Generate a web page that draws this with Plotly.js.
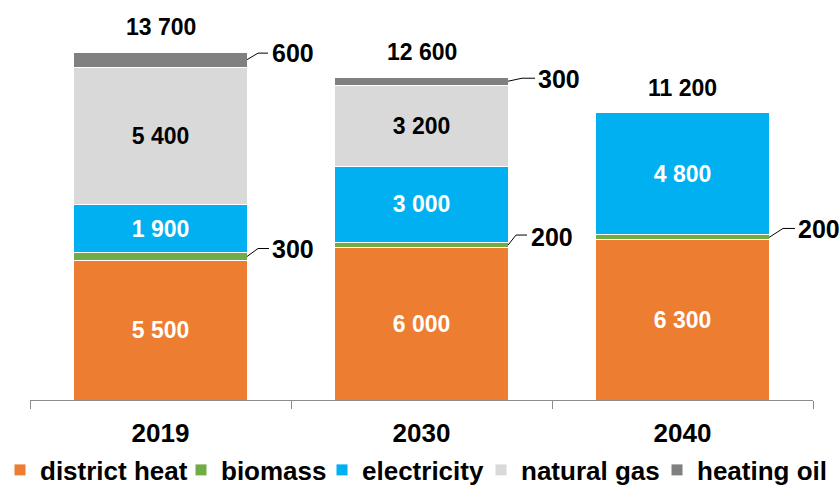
<!DOCTYPE html>
<html>
<head>
<meta charset="utf-8">
<script src="https://cdn.plot.ly/plotly-3.0.1.min.js"></script>
<style>
  html, body { margin: 0; padding: 0; background: #ffffff; }
  #chart { width: 840px; height: 485px; }
</style>
</head>
<body>
<div id="chart"></div>
<script>
// Heat supply by source, stacked per year
const categories  = ['2019', '2030', '2040'];
const districtHeat = [5500, 6000, 6300];
const biomass      = [300, 200, 200];
const electricity  = [1900, 3000, 4800];
const naturalGas   = [5400, 3200, 0];
const heatingOil   = [600, 300, 0];
const totals       = [13700, 12600, 11200];

const FONT = 'Liberation Sans, Arial, sans-serif';
const W = 840, H = 485;
const BAR_WIDTH = 0.663;           // fraction of a category slot
const fmt = v => String(v).replace(/\B(?=(\d{3})+(?!\d))/g, ' ');

// Each series gets its own one-entry legend so the key row can be spaced freely
const series = [
  { name: 'district heat', values: districtHeat, color: '#ED7D31', textColor: '#ffffff', keyX: 0 },
  { name: 'biomass',       values: biomass,      color: '#70AD47', textColor: null,      keyX: 181 },
  { name: 'electricity',   values: electricity,  color: '#00B0F0', textColor: '#ffffff', keyX: 322 },
  { name: 'natural gas',   values: naturalGas,   color: '#D9D9D9', textColor: '#000000', keyX: 481 },
  { name: 'heating oil',   values: heatingOil,   color: '#808080', textColor: null,      keyX: 657 }
];

const legendId = i => (i === 0 ? 'legend' : 'legend' + (i + 1));

const traces = series.map((s, i) => ({
  type: 'bar',
  name: s.name,
  legend: legendId(i),
  x: categories,
  y: s.values,
  marker: { color: s.color, line: { color: '#ffffff', width: 1 } },
  text: s.textColor ? s.values.map(v => (v ? fmt(v) : '')) : null,
  textposition: s.textColor ? 'inside' : 'none',
  insidetextanchor: 'middle',
  textangle: 0,
  constraintext: 'none',
  insidetextfont: { family: FONT, size: 23, color: s.textColor || '#000000', weight: 'bold' },
  hoverinfo: 'skip'
}));

// Small segments are labelled outside the bar with a bent leader line
const leaders = [
  { s: 4, c: 0, bend: [11, 6.5], end: 21, label: [23, 6.5] },
  { s: 1, c: 0, bend: [11, 8],   end: 22, label: [23, 7] },
  { s: 4, c: 1, bend: [14, 3],   end: 27, label: [28, 2.5] },
  { s: 1, c: 1, bend: [8, 10],   end: 19, label: [21, 8] },
  { s: 1, c: 2, bend: [14, 9],   end: 26, label: [27, 8.5] }
];

const segmentMid = (s, c) => {
  let base = 0;
  for (let k = 0; k < s; k++) base += series[k].values[c];
  return base + series[s].values[c] / 2;
};

const shapes = [];
const annotations = [];

leaders.forEach(L => {
  const xEdge = L.c + BAR_WIDTH / 2;
  const yMid = segmentMid(L.s, L.c);
  shapes.push({
    type: 'path', xref: 'x', yref: 'y',
    xsizemode: 'pixel', ysizemode: 'pixel',
    xanchor: xEdge, yanchor: yMid,
    path: `M0,0L${L.bend[0]},${L.bend[1]}L${L.end},${L.bend[1]}`,
    line: { color: '#000000', width: 1 }
  });
  annotations.push({
    xref: 'x', yref: 'y', x: xEdge, y: yMid,
    xanchor: 'left', yanchor: 'middle',
    xshift: L.label[0], yshift: L.label[1],
    text: fmt(series[L.s].values[L.c]),
    showarrow: false,
    font: { family: FONT, size: 25, color: '#000000', weight: 'bold' }
  });
});

// Totals above each stack
categories.forEach((cat, c) => {
  const top = series.reduce((acc, s) => acc + s.values[c], 0);
  annotations.push({
    xref: 'x', yref: 'y', x: c, y: top,
    xanchor: 'center', yanchor: 'middle', yshift: 25,
    text: fmt(totals[c]),
    showarrow: false,
    font: { family: FONT, size: 23, color: '#000000', weight: 'bold' }
  });
});

const layout = {
  width: W,
  height: H,
  margin: { l: 30, r: 27, t: 19, b: 85 },
  paper_bgcolor: '#ffffff',
  plot_bgcolor: '#ffffff',
  barmode: 'stack',
  bargap: 1 - BAR_WIDTH,
  font: { family: FONT, color: '#000000' },
  xaxis: {
    type: 'category',
    range: [-0.5, categories.length - 0.5],
    tickson: 'boundaries',
    ticks: 'outside',
    ticklen: 8,
    tickcolor: '#8c8c8c',
    ticklabelstandoff: 10,
    showline: true,
    linecolor: '#8c8c8c',
    linewidth: 1,
    showgrid: false,
    zeroline: false,
    tickfont: { family: FONT, size: 26, color: '#000000', weight: 'bold' },
    fixedrange: true
  },
  yaxis: {
    visible: false,
    range: [0, 15000],
    fixedrange: true
  },
  showlegend: true,
  shapes: shapes,
  annotations: annotations
};

series.forEach((s, i) => {
  layout[legendId(i)] = {
    orientation: 'h',
    xref: 'container', x: s.keyX / W, xanchor: 'left',
    yref: 'container', y: 15 / H, yanchor: 'middle',
    bgcolor: 'rgba(0,0,0,0)',
    font: { family: FONT, size: 26, color: '#000000', weight: 'bold' },
    itemclick: false, itemdoubleclick: false
  };
});

Plotly.newPlot('chart', traces, layout, { staticPlot: true, displayModeBar: false });
</script>
</body>
</html>
